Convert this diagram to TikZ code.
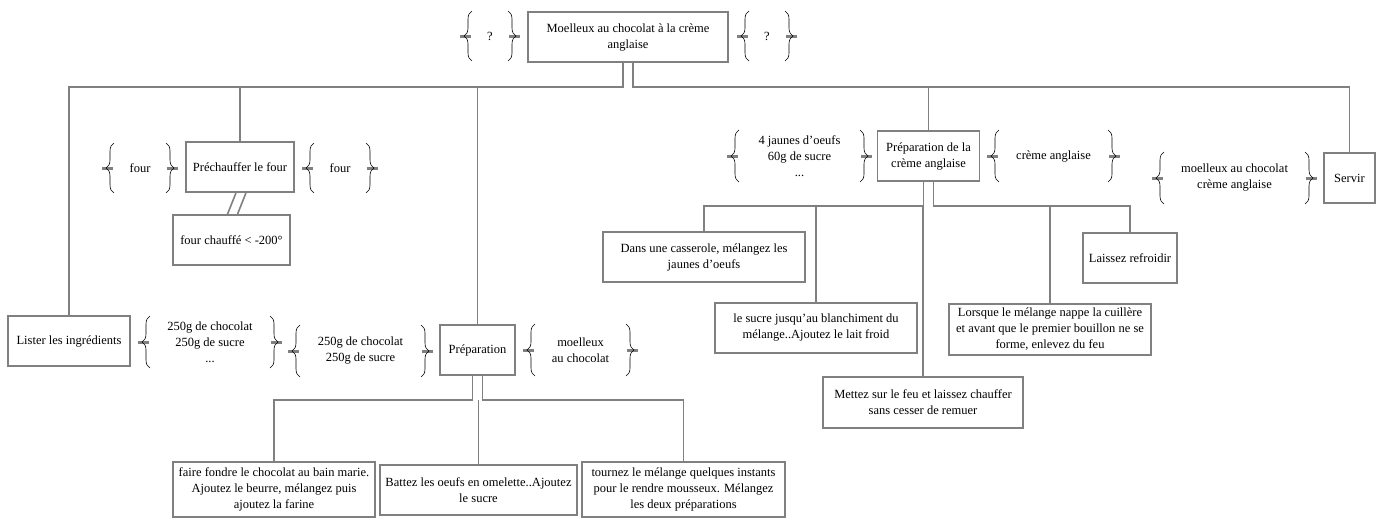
\documentclass[tikz,border=0pt]{standalone}
\usepackage{fontspec}
\setmainfont{Liberation Serif}
\usetikzlibrary{decorations.pathreplacing}
\begin{document}
\begin{tikzpicture}[x=1pt, y=-1pt,
    box/.style={draw=gray, line width=1.6pt, inner sep=0pt, align=center, font=\fontsize{12.5}{16}\selectfont},
    link/.style={draw=gray, line width=1.6pt},
    brc/.style={draw=black, line width=0.6pt, decorate, decoration={brace, amplitude=8pt}},
    stub/.style={draw=gray, line width=3pt},
    txt/.style={align=center, inner sep=0pt, font=\fontsize{12.5}{16}\selectfont}]
    \useasboundingbox (0,0) rectangle (1380,523);
    %% boxes
    \node[box, minimum width=200pt, minimum height=50pt] (root) at (628,37) {Moelleux au chocolat à la crème\\anglaise};
    \node[box, minimum width=108pt, minimum height=50pt] (prech) at (240,167) {Préchauffer le four};
    \node[box, minimum width=117pt, minimum height=50pt] (chauffe) at (231.5,240) {four chauffé < -200°};
    \node[box, minimum width=122pt, minimum height=50pt] (lister) at (69,341) {Lister les ingrédients};
    \node[box, minimum width=75pt, minimum height=50pt] (prep) at (477.5,350) {Préparation};
    \node[box, minimum width=202pt, minimum height=55pt] (fondre) at (274,489.5) {faire fondre le chocolat au bain marie.\\Ajoutez le beurre, mélangez puis\\ajoutez la farine};
    \node[box, minimum width=197pt, minimum height=50pt] (battez) at (478.5,490) {Battez les oeufs en omelette..Ajoutez\\le sucre};
    \node[box, minimum width=203pt, minimum height=55pt] (tournez) at (683.5,489.5) {tournez le mélange quelques instants\\pour le rendre mousseux. Mélangez\\les deux préparations};
    \node[box, minimum width=102pt, minimum height=50pt] (creme) at (928.5,156) {Préparation de la\\crème anglaise};
    \node[box, minimum width=202pt, minimum height=50pt] (casserole) at (704,257) {Dans une casserole, mélangez les\\jaunes d'oeufs};
    \node[box, minimum width=202pt, minimum height=50pt] (sucre) at (816,328) {le sucre jusqu'au blanchiment du\\mélange..Ajoutez le lait froid};
    \node[box, minimum width=200pt, minimum height=51pt] (mettez) at (923,402.5) {Mettez sur le feu et laissez chauffer\\sans cesser de remuer};
    \node[box, minimum width=202pt, minimum height=51pt] (lorsque) at (1050,329.5) {Lorsque le mélange nappe la cuillère\\et avant que le premier bouillon ne se\\forme, enlevez du feu};
    \node[box, minimum width=94pt, minimum height=50pt] (refroidir) at (1130,258) {Laissez refroidir};
    \node[box, minimum width=51pt, minimum height=50pt] (servir) at (1349.5,178) {Servir};
    %% braces
    \foreach \nm/\l/\r/\y/\h/\txt in {rootin/460/520/36/25/{?}, rootout/737/797/36/25/{?},
        prechin/102/178/168/25/{four}, prechout/302/378/168/25/{four},
        listerout/138/282/342/26/{250g de chocolat\\250g de sucre\\...},
        prepin/288/433/351/26/{250g de chocolat\\250g de sucre},
        prepout/523/638/350/26/{moelleux\\au chocolat},
        cremein/727/872/156/26/{4 jaunes d'oeufs\\60g de sucre\\...},
        cremeout/987/1120/156/26/{crème anglaise},
        servirin/1152/1317/178/26/{moelleux au chocolat\\crème anglaise}} {
        \draw[stub] (\l,\y) -- (\l+11,\y);
        \draw[stub] (\r-11,\y) -- (\r,\y);
        \draw[brc] (\l+12,\y+\h) -- (\l+12,\y-\h);
        \draw[brc] (\r-12,\y-\h) -- (\r-12,\y+\h);
        \node[txt] (\nm) at ({(\l+\r)/2},\y) {\txt};
    }
    %% first level
    \coordinate (busa) at (0,87);
    \draw[link] ([xshift=-5pt]root.south) |- (lister.north |- busa) -- (lister.north);
    \draw[link] ([xshift=5pt]root.south) |- (servir.north |- busa) -- (servir.north);
    \foreach \c in {prech,prep,creme}
        \draw[link] (\c.north |- busa) -- (\c.north);
    %% prechauffer
    \draw[link] ([xshift=-4pt]prech.south) -- ([xshift=-4pt]chauffe.north);
    \draw[link] ([xshift=6pt]prech.south) -- ([xshift=6pt]chauffe.north);
    %% preparation
    \coordinate (busb) at (0,400);
    \draw[link] ([xshift=-5pt]prep.south) |- (fondre.north |- busb) -- (fondre.north);
    \draw[link] ([xshift=5pt]prep.south) |- (tournez.north |- busb) -- (tournez.north);
    \draw[link] (battez.north |- busb) -- (battez.north);
    %% creme anglaise
    \coordinate (busc) at (0,206);
    \draw[link] ([xshift=-5pt]creme.south) |- (casserole.north |- busc) -- (casserole.north);
    \draw[link] ([xshift=5pt]creme.south) |- (refroidir.north |- busc) -- (refroidir.north);
    \foreach \c in {sucre,mettez,lorsque}
        \draw[link] (\c.north |- busc) -- (\c.north);
\end{tikzpicture}
\end{document}
